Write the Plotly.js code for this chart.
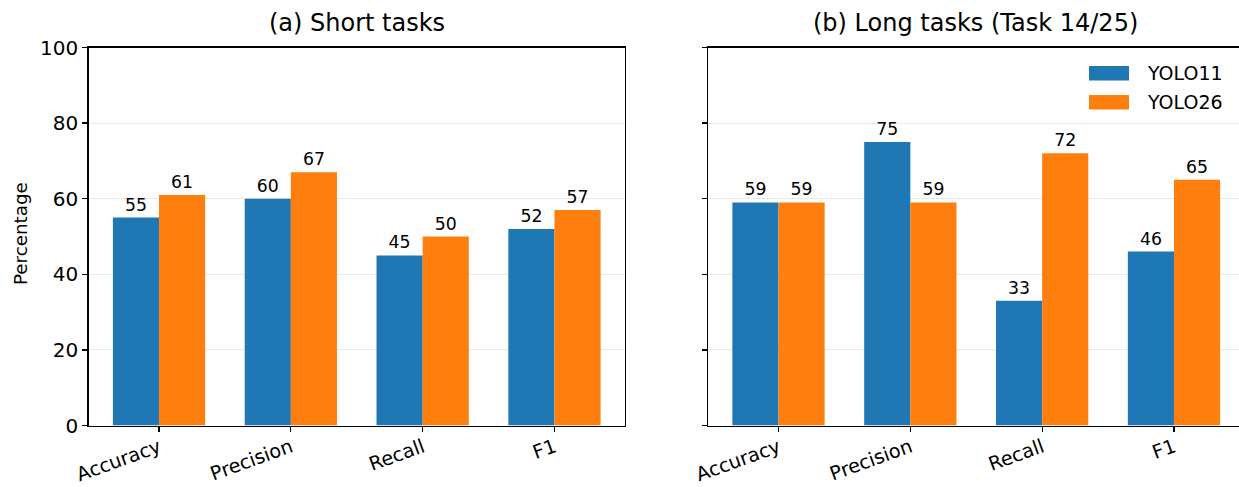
<!DOCTYPE html>
<html>
<head>
<meta charset="utf-8">
<script src="https://cdn.plot.ly/plotly-3.0.1.min.js"></script>
<style>
html,body{margin:0;padding:0;overflow:hidden;background:#fff;width:1239px;height:487px;}
#chart{width:1239px;height:487px;}
</style>
</head>
<body>
<div id="chart"></div>
<script>
// Data
const categories = ["Accuracy", "Precision", "Recall", "F1"];
const seriesNames = ["YOLO11", "YOLO26"];
const shortYolo11 = [55, 60, 45, 52];
const shortYolo26 = [61, 67, 50, 57];
const longYolo11 = [59, 75, 33, 46];
const longYolo26 = [59, 59, 72, 65];
const yTicks = [0, 20, 40, 60, 80, 100];
const panelTitles = ["(a) Short tasks", "(b) Long tasks (Task 14/25)"];
const yLabel = "Percentage";

const colors = ["#1f77b4", "#ff7f0e"];
const W = 1239, H = 487;
const px = x => x / W;
const py = y => 1 - y / H;
const FONT = "DejaVu Sans, Liberation Sans, sans-serif";

function bar(name, vals, color, xa, ya) {
  return {
    type: "bar", name: name, x: categories, y: vals,
    xaxis: xa, yaxis: ya,
    marker: {color: color, line: {width: 0}},
    text: vals.map(String), textposition: "outside",
    textfont: {family: FONT, size: 17.3, color: "#000"},
    cliponaxis: false, showlegend: false, hoverinfo: "x+y"
  };
}

const data = [
  bar(seriesNames[0], shortYolo11, colors[0], "x", "y"),
  bar(seriesNames[1], shortYolo26, colors[1], "x", "y"),
  bar(seriesNames[0], longYolo11, colors[0], "x2", "y2"),
  bar(seriesNames[1], longYolo26, colors[1], "x2", "y2")
];

const xBase = {
  type: "category", showline: true, mirror: true,
  linecolor: "#000", linewidth: 1.3, ticks: "outside", ticklen: 5, tickwidth: 1.3,
  tickcolor: "#000", showgrid: false, zeroline: false, tickangle: -20,
  ticklabelstandoff: -3,
  tickfont: {family: FONT, size: 19.3, color: "#000"}, fixedrange: true
};
const yBase = {
  range: [0, 100], tickvals: yTicks, showline: true, mirror: true,
  linecolor: "#000", linewidth: 1.3, ticks: "outside", ticklen: 5, tickwidth: 1.3,
  tickcolor: "#000", showgrid: true, gridcolor: "#e8e8e8", gridwidth: 1, zeroline: false,
  tickfont: {family: FONT, size: 20, color: "#000"}, fixedrange: true
};
const unit = (625 - 88.5) / 4.07;

const layout = {
  width: W, height: H,
  margin: {l: 0, r: 0, t: 0, b: 0},
  paper_bgcolor: "#fff", plot_bgcolor: "#fff",
  barmode: "group", bargap: 0.3, bargroupgap: 0,
  showlegend: false,
  font: {family: FONT, color: "#000"},
  xaxis: Object.assign({}, xBase, {domain: [px(88.5), px(625)], anchor: "y", range: [-0.535, 3.535]}),
  yaxis: Object.assign({}, yBase, {domain: [py(425.5), py(47.5)], anchor: "x"}),
  xaxis2: Object.assign({}, xBase, {domain: [px(708), 1], anchor: "y2", range: [-0.535, -0.535 + (W - 708) / unit]}),
  yaxis2: Object.assign({}, yBase, {domain: [py(425.5), py(47.5)], anchor: "x2", showticklabels: false, mirror: false}),
  shapes: [
    {type: "rect", xref: "paper", yref: "paper", x0: px(1089), x1: px(1129), y0: py(80.5), y1: py(66), fillcolor: colors[0], line: {width: 0}},
    {type: "rect", xref: "paper", yref: "paper", x0: px(1089), x1: px(1129), y0: py(109.5), y1: py(95), fillcolor: colors[1], line: {width: 0}}
  ],
  annotations: [
    {text: panelTitles[0], xref: "paper", yref: "paper", x: px(356.5), y: py(23), xanchor: "center", yanchor: "middle", showarrow: false, font: {family: FONT, size: 24, color: "#000"}},
    {text: panelTitles[1], xref: "paper", yref: "paper", x: px(975), y: py(23), xanchor: "center", yanchor: "middle", showarrow: false, font: {family: FONT, size: 24, color: "#000"}},
    {text: yLabel, xref: "paper", yref: "paper", x: px(20), y: py(234), xanchor: "center", yanchor: "middle", textangle: -90, showarrow: false, font: {family: FONT, size: 18.3, color: "#000"}},
    {text: seriesNames[0], xref: "paper", yref: "paper", x: px(1145), y: py(73), xanchor: "left", yanchor: "middle", showarrow: false, font: {family: FONT, size: 19, color: "#000"}},
    {text: seriesNames[1], xref: "paper", yref: "paper", x: px(1145), y: py(102), xanchor: "left", yanchor: "middle", showarrow: false, font: {family: FONT, size: 19, color: "#000"}}
  ]
};

Plotly.newPlot("chart", data, layout, {displayModeBar: false, staticPlot: true});
</script>
</body>
</html>
